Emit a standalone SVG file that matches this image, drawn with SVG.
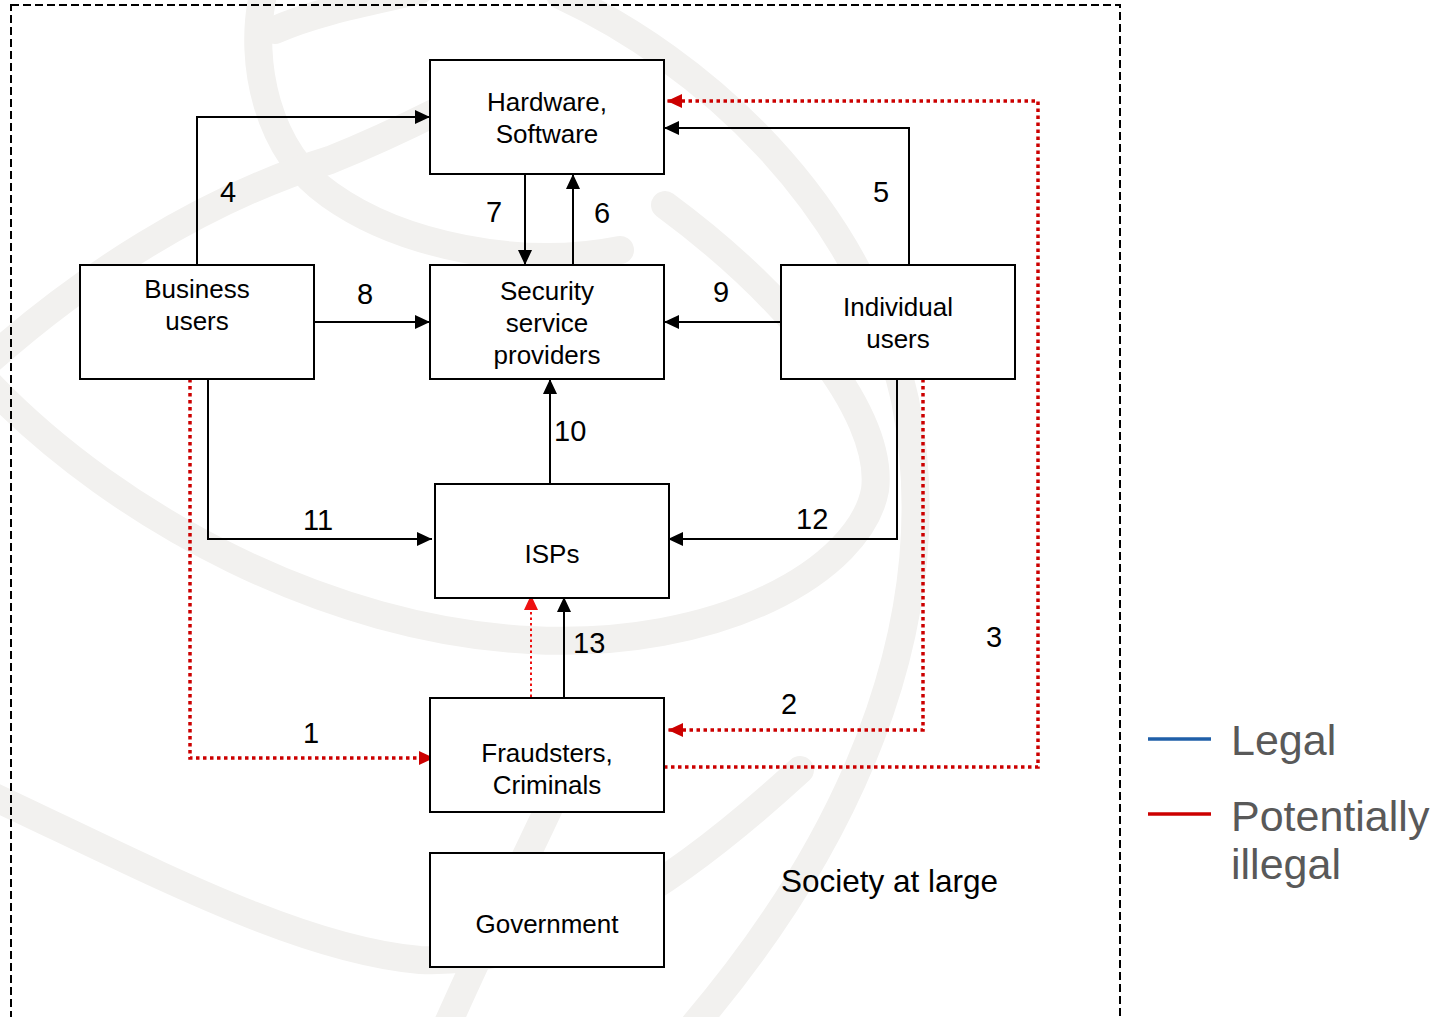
<svg xmlns="http://www.w3.org/2000/svg" width="1447" height="1017" viewBox="0 0 1447 1017">
<style>
.bg{fill:none;stroke:#f2f1ef;stroke-width:28;stroke-linecap:round}
.box{fill:#fff;stroke:#000;stroke-width:2}
.lbl{font-family:"Liberation Sans",Arial,sans-serif;font-size:26px;fill:#000;text-anchor:middle}
.num{font-family:"Liberation Sans",Arial,sans-serif;font-size:29px;fill:#000}
.leg{font-family:"Liberation Sans",Arial,sans-serif;font-size:43px;fill:#595959}
.c{fill:none;stroke:#000;stroke-width:2}
.r{fill:none;stroke:#cc0000;stroke-width:3.5;stroke-dasharray:3.5,3.5}
.rt{fill:none;stroke:#ee1111;stroke-width:2;stroke-dasharray:2.5,3}
</style>
<defs>
<marker id="ab" markerUnits="userSpaceOnUse" markerWidth="17" markerHeight="16" refX="15" refY="7" orient="auto"><path d="M0,0 L15,7 L0,14 z" fill="#000"/></marker>
<marker id="ar" markerUnits="userSpaceOnUse" markerWidth="17" markerHeight="16" refX="15" refY="7" orient="auto"><path d="M0,0 L15,7 L0,14 z" fill="#cc0000"/></marker>
<marker id="ar2" markerUnits="userSpaceOnUse" markerWidth="17" markerHeight="16" refX="15" refY="7" orient="auto"><path d="M0,0 L15,7 L0,14 z" fill="#ee1111"/></marker>
</defs>
<rect width="1447" height="1017" fill="#fff"/>
<g id="watermark">
<path class="bg" d="M-10,385 C120,520 330,630 530,640 C720,650 860,570 875,490 C885,410 780,290 665,205"/>
<path class="bg" d="M262,0 C250,60 265,150 330,195 C400,245 520,270 620,250"/>
<path class="bg" d="M275,30 C320,10 380,0 420,-10"/>
<path class="bg" d="M560,-5 C700,60 860,200 905,400 C945,600 870,820 690,1030"/>
<path class="bg" d="M-10,360 C80,280 200,200 330,160 C380,140 420,120 440,110"/>
<path class="bg" d="M-10,795 C150,870 300,950 420,960 C560,965 680,880 800,770"/>
<path class="bg" d="M555,795 C520,870 480,950 445,1030"/>
</g>
<rect x="11" y="5" width="1109" height="1030" fill="none" stroke="#000" stroke-width="2" stroke-dasharray="8,4"/>
<g id="connectors">
<path class="c" d="M197,265 V117 H430" marker-end="url(#ab)"/>
<path class="c" d="M525,174 V265" marker-end="url(#ab)"/>
<path class="c" d="M573,265 V174" marker-end="url(#ab)"/>
<path class="c" d="M314,322 H430" marker-end="url(#ab)"/>
<path class="c" d="M781,322 H664" marker-end="url(#ab)"/>
<path class="c" d="M909,265 V128 H664" marker-end="url(#ab)"/>
<path class="c" d="M550,484 V379" marker-end="url(#ab)"/>
<path class="c" d="M208,379 V539 H432" marker-end="url(#ab)"/>
<path class="c" d="M897,379 V539 H668" marker-end="url(#ab)"/>
<path class="c" d="M564,698 V597" marker-end="url(#ab)"/>
<path class="r" d="M190,379 V758 H434" marker-end="url(#ar)"/>
<path class="r" d="M923,379 V730 H668" marker-end="url(#ar)"/>
<path class="r" d="M664,767 H1038 V101 H667" marker-end="url(#ar)"/>
<path class="rt" d="M531,697 V595" marker-end="url(#ar2)"/>
<text class="num" x="220" y="202">4</text>
<text class="num" x="486" y="222">7</text>
<text class="num" x="594" y="223">6</text>
<text class="num" x="357" y="304">8</text>
<text class="num" x="873" y="202">5</text>
<text class="num" x="713" y="302">9</text>
<text class="num" x="554" y="441">10</text>
<text class="num" x="303" y="530">11</text>
<text class="num" x="796" y="529">12</text>
<text class="num" x="573" y="653">13</text>
<text class="num" x="303" y="743">1</text>
<text class="num" x="781" y="714">2</text>
<text class="num" x="986" y="647">3</text>
</g>
<g id="hardware"><rect class="box" x="430" y="60" width="234" height="114"/><text class="lbl" x="547" y="111">Hardware,</text><text class="lbl" x="547" y="143">Software</text></g>
<g id="business"><rect class="box" x="80" y="265" width="234" height="114"/><text class="lbl" x="197" y="298">Business</text><text class="lbl" x="197" y="330">users</text></g>
<g id="security"><rect class="box" x="430" y="265" width="234" height="114"/><text class="lbl" x="547" y="300">Security</text><text class="lbl" x="547" y="332">service</text><text class="lbl" x="547" y="364">providers</text></g>
<g id="individual"><rect class="box" x="781" y="265" width="234" height="114"/><text class="lbl" x="898" y="316">Individual</text><text class="lbl" x="898" y="348">users</text></g>
<g id="isps"><rect class="box" x="435" y="484" width="234" height="114"/><text class="lbl" x="552" y="563">ISPs</text></g>
<g id="fraudsters"><rect class="box" x="430" y="698" width="234" height="114"/><text class="lbl" x="547" y="762">Fraudsters,</text><text class="lbl" x="547" y="794">Criminals</text></g>
<g id="government"><rect class="box" x="430" y="853" width="234" height="114"/><text class="lbl" x="547" y="933">Government</text></g>
<text class="num" x="781" y="892" style="font-size:31.5px">Society at large</text>
<g id="legend">
<line x1="1148" y1="739" x2="1211" y2="739" stroke="#1f5fa8" stroke-width="3.5"/>
<line x1="1148" y1="814" x2="1211" y2="814" stroke="#cc0000" stroke-width="3.5"/>
<text class="leg" x="1231" y="755">Legal</text>
<text class="leg" x="1231" y="831">Potentially</text>
<text class="leg" x="1231" y="879">illegal</text>
</g>
</svg>
